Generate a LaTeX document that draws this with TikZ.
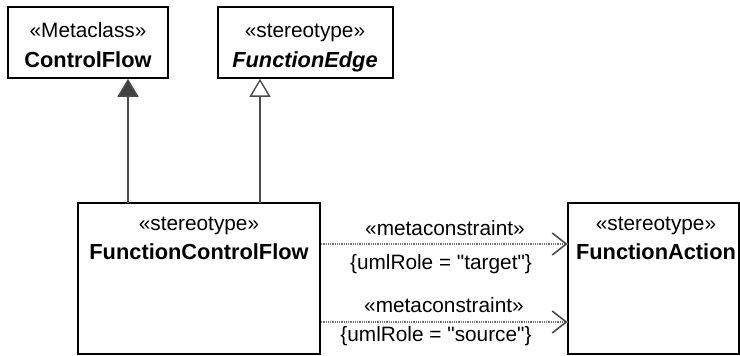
\documentclass[tikz,border=0pt]{standalone}
\usepackage{fontspec}
\setmainfont{Liberation Sans}[Ligatures=TeXOff]
\usetikzlibrary{arrows.meta}
\tikzset{
  umlbox/.style={draw=black, line width=1.6pt, fill=white, inner sep=0pt},
  boxtext/.style={font=\fontsize{20.8}{25}\selectfont, inner sep=0pt, anchor=base},
  boldtext/.style={font=\fontsize{21.8}{25}\selectfont\bfseries, inner sep=0pt, anchor=base},
  gen/.style={draw=black!70, line width=1.4pt},
  filledtip/.style={-{Triangle[width=21pt,length=18pt,fill=black!75]}},
  opentip/.style={-{Triangle[open,width=21pt,length=18pt,fill=white]}},
  dep/.style={draw=black!55, line width=1.3pt, dotted, dash pattern=on 1pt off 0.8pt},
  vtip/.style={-{Straight Barb[length=14pt,width=22pt,line width=1.6pt]}},
}
\begin{document}
\begin{tikzpicture}[x=1pt,y=-1pt]
\useasboundingbox (0,0) rectangle (740,356);
% boxes
\draw[umlbox] (8,7) rectangle (168,78);
\draw[umlbox] (218,7) rectangle (393,78);
\draw[umlbox] (78,203) rectangle (320,354);
\draw[umlbox] (568,203) rectangle (739,354);
% texts
\node[boxtext] (cfs) at (88,37) {«Metaclass»};
\node[boldtext] (cfn) at (88,67) {ControlFlow};
\node[boxtext] (fes) at (305,37) {«stereotype»};
\node[boldtext] (fen) at (305,67) {\itshape FunctionEdge};
\node[boxtext] (fcfs) at (199,230) {«stereotype»};
\node[boldtext] (fcfn) at (199,259) {FunctionControlFlow};
\node[boxtext] (fas) at (656,230) {«stereotype»};
\node[boldtext] (fan) at (656,259) {FunctionAction};
% coordinates
\coordinate (g1a) at (128,203);
\coordinate (g1b) at (128,78.8);
\coordinate (g2a) at (260,203);
\coordinate (g2b) at (260,78.8);
\coordinate (d1a) at (320.8,244);
\coordinate (d1b) at (567.5,244);
\coordinate (d2a) at (320.8,322);
\coordinate (d2b) at (567.5,322);
% generalizations
\draw[gen, filledtip] (g1a) -- (g1b);
\draw[gen, opentip] (g2a) -- (g2b);
% dependencies
\draw[dep] (d1a) -- (d1b);
\draw[draw=black!70, vtip] ([xshift=-1pt]d1b) -- (d1b);
\draw[dep] (d2a) -- (d2b);
\draw[draw=black!70, vtip] ([xshift=-1pt]d2b) -- (d2b);
% labels
\node[boxtext] (l1) at (445,235) {«metaconstraint»};
\node[boxtext] (l2) at (441,269) {\{umlRole = "target"\}};
\node[boxtext] (l3) at (444,312) {«metaconstraint»};
\node[boxtext] (l4) at (436,341) {\{umlRole = "source"\}};
\end{tikzpicture}
\end{document}
